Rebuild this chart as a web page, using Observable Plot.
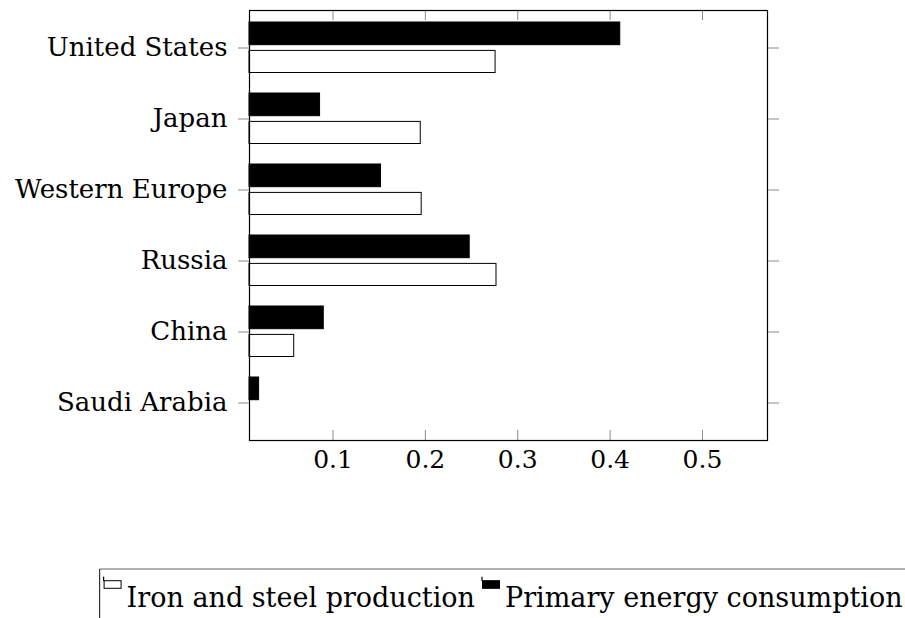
<!DOCTYPE html>
<html>
<head>
<meta charset="utf-8">
<script src="https://cdn.jsdelivr.net/npm/d3@7"></script>
<script src="https://cdn.jsdelivr.net/npm/@observablehq/plot@0.6"></script>
<style>
  html, body { margin: 0; padding: 0; background: #fff; overflow: hidden; }
  body { position: relative; width: 905px; height: 618px; font-family: "DejaVu Serif", serif; }
</style>
</head>
<body>
<script>
const countries = ["United States", "Japan", "Western Europe", "Russia", "China", "Saudi Arabia"];
const ironSteel = [0.276, 0.195, 0.196, 0.277, 0.058, 0.0096];
const energy = [0.411, 0.086, 0.152, 0.248, 0.090, 0.020];
const seriesNames = ["Iron and steel production", "Primary energy consumption"];
const xTicks = [0.1, 0.2, 0.3, 0.4, 0.5];
const xDomain = [0.0096, 0.5704];

const ironRows = countries.map((c, i) => ({country: c, series: seriesNames[0], value: ironSteel[i], base: xDomain[0]}));
const energyRows = countries.map((c, i) => ({country: c, series: seriesNames[1], value: energy[i], base: xDomain[0]}));

const chart = Plot.plot({
  width: 905,
  height: 560,
  marginLeft: 249,
  marginRight: 138,
  marginTop: 10,
  marginBottom: 120,
  style: {fontFamily: "DejaVu Serif", fontSize: "26px", color: "#000", background: "#fff"},
  x: {domain: xDomain, ticks: xTicks, label: null},
  y: {type: "band", domain: countries, padding: 0, label: null},
  marks: [
    Plot.ruleX(xTicks, {x: d => d, insetTop: 420, stroke: "#8a8a8a", strokeWidth: 1}),
    Plot.ruleX(xTicks, {x: d => d, insetBottom: 420, stroke: "#8a8a8a", strokeWidth: 1}),
    Plot.barX(energyRows, {x1: "base", x2: "value", y: "country", fill: "#000", stroke: "#000", strokeWidth: 1, insetTop: 10, insetBottom: 38.3}),
    Plot.barX(ironRows, {x1: "base", x2: "value", y: "country", fill: "#fff", stroke: "#000", strokeWidth: 1, insetTop: 38.4, insetBottom: 10.5}),
    Plot.frame({stroke: "#000", strokeWidth: 1.2}),
    Plot.axisY({anchor: "left", label: null, tickSize: 11, tickFormat: () => "", stroke: "#8a8a8a"}),
    Plot.axisY({anchor: "right", label: null, tickSize: 11, tickFormat: () => "", stroke: "#8a8a8a"}),
    Plot.axisY({anchor: "left", label: null, tickSize: 0, tickPadding: 22, fontSize: 26, fill: "#000"}),
    Plot.axisX({anchor: "bottom", label: null, ticks: xTicks, tickSize: 0, tickPadding: 10, fontSize: 25, fill: "#000", tickFormat: d => d.toFixed(1)})
  ]
});
document.body.appendChild(chart);

// Legend below the chart
const lg = d3.select("body").append("svg")
  .attr("width", 905).attr("height", 58)
  .style("position", "absolute").style("left", "0px").style("top", "560px")
  .attr("font-family", "DejaVu Serif").attr("font-size", 27);

const baseY = 46.7;
const t1 = lg.append("text").attr("x", 475).attr("y", baseY).attr("text-anchor", "end").attr("fill", "#000").text(seriesNames[0]);
const w1 = t1.node().getComputedTextLength();
const start1 = 475 - w1;
lg.append("text").attr("x", 505).attr("y", baseY).attr("fill", "#000").text(seriesNames[1]);

function icon(x, fill) {
  lg.append("line").attr("x1", x).attr("x2", x).attr("y1", 16.7).attr("y2", 21).attr("stroke", "#000").attr("stroke-width", 1.2);
  lg.append("rect").attr("x", x + 0.5).attr("y", 20.7).attr("width", 17).attr("height", 7.6)
    .attr("fill", fill).attr("stroke", "#000").attr("stroke-width", 1);
}
icon(start1 - 23, "#fff");
icon(482, "#000");

const boxLeft = start1 - 27;
lg.append("line").attr("x1", boxLeft).attr("x2", 905).attr("y1", 9).attr("y2", 9).attr("stroke", "#666").attr("stroke-width", 1.2);
lg.append("line").attr("x1", boxLeft).attr("x2", boxLeft).attr("y1", 9).attr("y2", 58).attr("stroke", "#333").attr("stroke-width", 1.2);
</script>
</body>
</html>
